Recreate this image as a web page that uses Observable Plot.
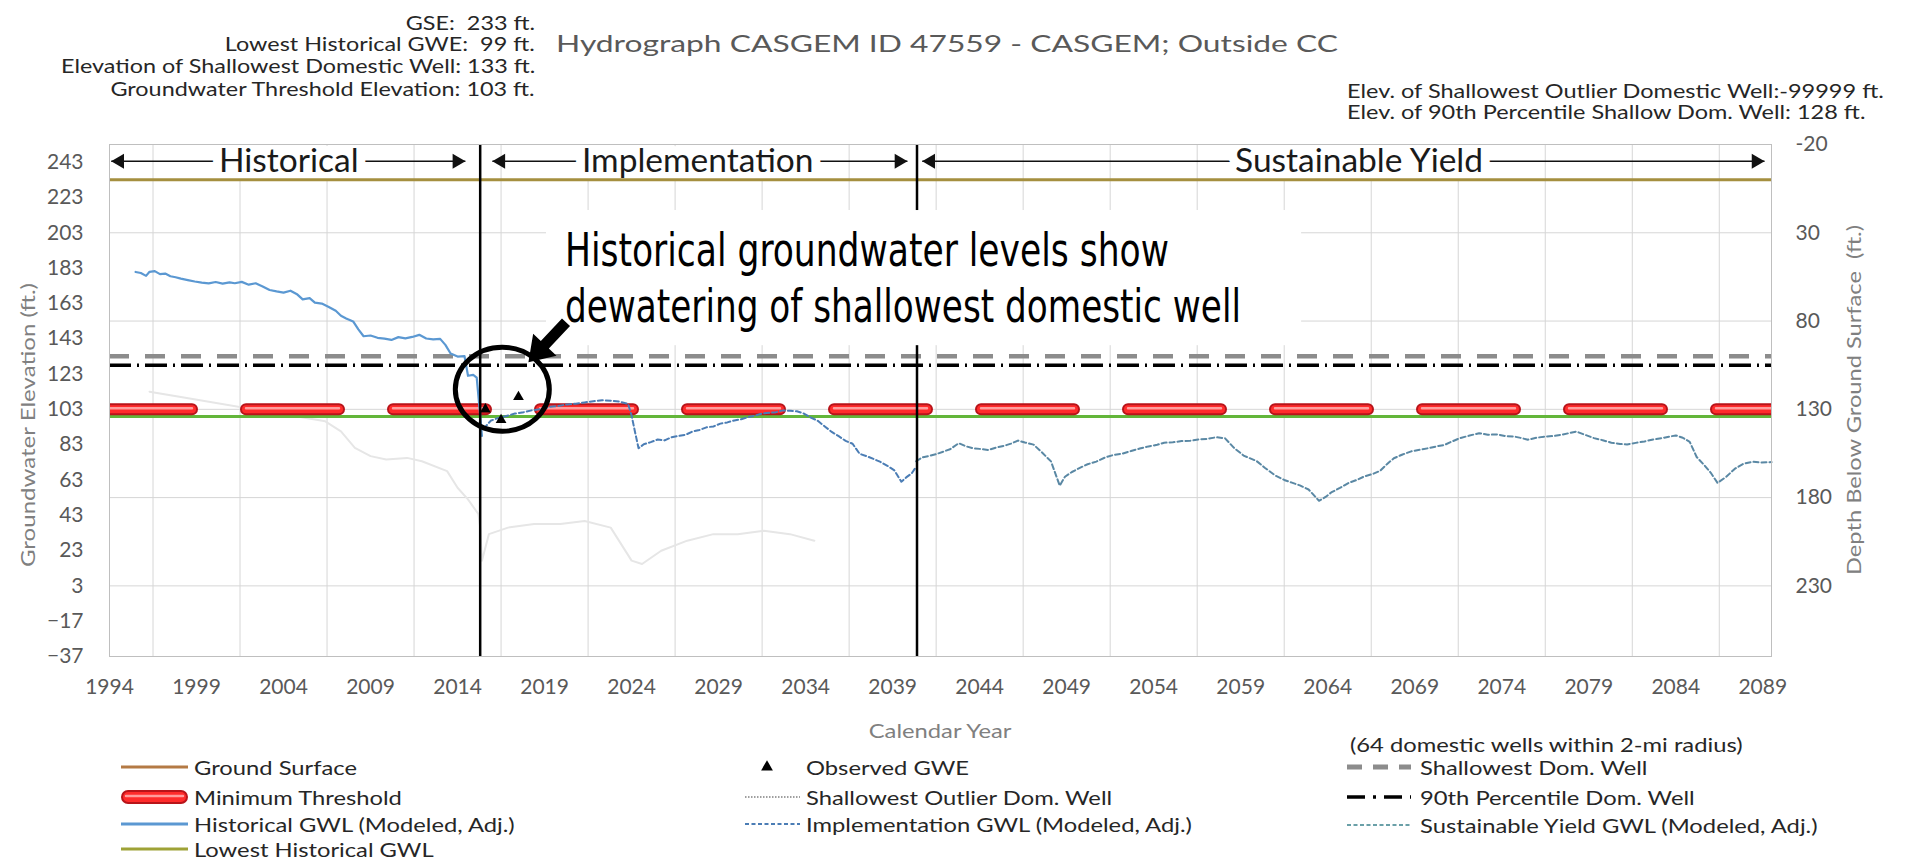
<!DOCTYPE html>
<html lang="en">
<head>
<meta charset="utf-8">
<title>Hydrograph CASGEM ID 47559</title>
<script src="https://cdn.jsdelivr.net/npm/d3@7"></script>
<script src="https://cdn.jsdelivr.net/npm/@observablehq/plot@0.6"></script>
<style>
  html, body { margin: 0; padding: 0; background: #fff; }
  #page { position: relative; width: 1908px; height: 865px; overflow: hidden; font-family: Lato, "Open Sans", sans-serif; }
  .band { position: relative; width: 1908px; }
  .txt { position: absolute; white-space: pre; line-height: 1; }
  .band svg { display: block; }
</style>
</head>
<body>
<div id="page">
  <div id="header" class="band" style="height:130px"></div>
  <div id="chart" class="band" style="height:585px"></div>
  <div id="footer" class="band" style="height:150px"></div>
</div>
<script>
// ---------- well reference values (ft) ----------
const GSE = 233;
const lowestHistoricalGWE = 99;
const shallowestDomWell = 133;
const thresholdElev = 103;
const pct90DomWell = 128;
const outlierDomWell = -99999;
const wellsInRadius = 64;

// ---------- axes ----------
const xDomain = [1994, 2089.5];
const yDomain = [-37, 253];
const yearTicks = d3.range(1994, 2090, 5);
const elevTicks = d3.range(-37, 254, 20);
const depthTicks = d3.range(-20, 231, 50);
const gridYears = d3.range(1996.5, 2089, 5);

// ---------- planning periods ----------
const periodBreaks = [2015.3, 2040.4];
const periodNames = ["Historical", "Implementation", "Sustainable Yield"];
const periodFrom = [1994.1, 2016.0, 2040.7];
const periodTo = [2014.45, 2039.85, 2089.1];
const periodMid = [2004.3, 2027.8, 2065.8];
const periodRow = 243.5;

// ---------- historical GWL (modeled, adj.) ----------
const histYear = [1995.5, 1995.8, 1996.1, 1996.3, 1996.6, 1996.9, 1997.2, 1997.5, 1997.8, 1998.1,
  1998.5, 1998.9, 1999.3, 1999.7, 2000.1, 2000.5, 2000.9, 2001.2, 2001.6, 2002.0,
  2002.4, 2002.8, 2003.2, 2003.6, 2004.0, 2004.4, 2004.8, 2005.1, 2005.5, 2005.8,
  2006.2, 2006.6, 2007.0, 2007.3, 2007.6, 2008.0, 2008.3, 2008.6, 2009.0, 2009.4,
  2009.8, 2010.2, 2010.6, 2011.0, 2011.4, 2011.8, 2012.2, 2012.6, 2013.0, 2013.3,
  2013.6, 2014.0, 2014.4, 2014.6, 2014.9, 2015.1, 2015.25, 2015.4];
const histElev = [180.8, 180.2, 178.6, 180.9, 181.3, 179.6, 179.9, 178.4, 177.8, 177.0,
  176.2, 175.4, 174.8, 174.3, 175.1, 174.2, 174.9, 174.4, 175.2, 173.6,
  174.4, 172.6, 170.6, 169.8, 169.1, 170.2, 168.0, 165.3, 166.0, 163.4,
  162.9, 161.0, 158.8, 156.0, 154.5, 152.8, 148.3, 144.4, 144.8, 143.5,
  143.0, 142.3, 143.9, 143.2, 144.0, 145.2, 143.1, 142.6, 142.9, 139.5,
  134.6, 132.9, 133.1, 122.0, 122.5, 121.0, 105.0, 88.0];

// ---------- implementation GWL (modeled, adj.) ----------
const implYear = [2015.5, 2015.9, 2016.3, 2016.8, 2017.3, 2017.8, 2018.3, 2018.8, 2019.3, 2019.8,
  2020.3, 2020.8, 2021.3, 2021.8, 2022.3, 2022.8, 2023.3, 2023.8, 2024.0, 2024.2,
  2024.4, 2024.7, 2025.1, 2025.5, 2025.9, 2026.3, 2026.7, 2027.1, 2027.5, 2027.9,
  2028.3, 2028.7, 2029.1, 2029.5, 2029.9, 2030.3, 2030.7, 2031.1, 2031.5, 2031.9,
  2032.3, 2032.7, 2033.1, 2033.5, 2033.9, 2034.3, 2034.7, 2035.1, 2035.5, 2035.9,
  2036.3, 2036.7, 2037.1, 2037.5, 2037.9, 2038.3, 2038.7, 2039.1, 2039.5, 2039.8,
  2040.1, 2040.35];
const implElev = [92.0, 96.5, 98.0, 99.2, 100.6, 101.4, 102.5, 103.1, 104.4, 104.9,
  105.8, 106.2, 106.9, 107.6, 108.2, 107.9, 107.4, 106.0, 99.5, 90.0,
  81.0, 83.2, 84.4, 85.9, 85.4, 87.2, 87.9, 88.6, 90.4, 91.3,
  92.8, 93.3, 94.9, 95.6, 96.7, 97.4, 98.6, 99.4, 100.6, 101.0,
  101.4, 102.4, 102.2, 101.9, 100.6, 98.3, 96.5, 93.3, 90.2, 87.8,
  85.1, 83.5, 77.8, 76.5, 74.9, 73.2, 71.0, 68.4, 62.0, 64.6,
  66.8, 70.5];

// ---------- sustainable yield GWL (modeled, adj.) ----------
const syYear = [2040.35, 2040.7, 2041.1, 2041.5, 2041.9, 2042.3, 2042.8, 2043.2, 2043.6, 2044.0,
  2044.5, 2045.0, 2045.4, 2045.8, 2046.2, 2046.6, 2047.1, 2047.6, 2048.1, 2048.6,
  2048.9, 2049.3, 2049.7, 2050.2, 2050.7, 2051.2, 2051.7, 2052.2, 2052.7, 2053.2,
  2053.7, 2054.2, 2054.6, 2055.1, 2055.6, 2056.1, 2056.6, 2057.1, 2057.6, 2058.1,
  2058.6, 2059.2, 2059.9, 2060.4, 2061.0, 2061.5, 2061.9, 2062.4, 2062.9, 2063.5,
  2063.9, 2064.2, 2064.7, 2065.2, 2065.7, 2066.1, 2066.6, 2067.0, 2067.4, 2067.8,
  2068.3, 2068.8, 2069.3, 2069.8, 2070.2, 2070.7, 2071.1, 2071.6, 2072.1, 2072.7,
  2073.2, 2073.7, 2074.2, 2074.7, 2075.1, 2075.5, 2076.0, 2076.5, 2077.0, 2077.5,
  2077.9, 2078.3, 2078.8, 2079.3, 2079.8, 2080.3, 2080.8, 2081.2, 2081.7, 2082.2,
  2082.7, 2083.2, 2083.6, 2084.0, 2084.4, 2084.8, 2085.2, 2085.6, 2086.0, 2086.4,
  2086.9, 2087.4, 2087.9, 2088.4, 2088.9, 2089.5];
const syElev = [73.6, 75.8, 76.6, 77.6, 79.0, 80.4, 83.8, 82.1, 81.0, 80.6,
  80.0, 81.5, 82.3, 83.6, 85.3, 84.2, 83.0, 78.4, 73.5, 59.8,
  64.8, 67.5, 69.6, 71.9, 73.4, 75.7, 77.2, 77.9, 79.4, 80.8,
  82.0, 82.9, 84.1, 84.3, 85.0, 85.2, 86.0, 86.3, 87.2, 86.6,
  81.3, 76.6, 73.8, 69.8, 65.4, 63.0, 61.6, 59.9, 57.6, 51.2,
  53.5, 55.9, 58.5, 61.3, 63.1, 65.0, 66.4, 68.1, 71.9, 75.3,
  77.4, 79.2, 80.1, 81.0, 81.9, 82.8, 84.6, 86.7, 88.0, 89.5,
  88.6, 88.8, 87.9, 87.6, 86.8, 85.8, 86.9, 87.6, 87.9, 88.7,
  89.6, 90.4, 88.5, 86.7, 85.5, 84.1, 83.4, 83.1, 84.0, 84.8,
  85.9, 86.7, 87.5, 88.2, 86.9, 84.6, 76.0, 71.8, 67.2, 61.3,
  64.8, 69.4, 72.2, 73.3, 72.9, 73.1];

// ---------- faded background trace ----------
const fadedYear = [1996.3, 1998.1, 2006.4, 2007.3, 2008.1, 2009.0, 2009.9, 2011.1, 2011.95, 2013.4,
  2014.0, 2014.6, 2015.2, 2015.3, 2015.4, 2015.8, 2016.9, 2018.4, 2019.9, 2021.3,
  2022.8, 2024.0, 2024.6, 2025.7, 2027.2, 2028.7, 2030.1, 2031.6, 2033.1, 2034.5];
const fadedElev = [113, 110, 96.2, 90.5, 81.2, 76.5, 74.6, 75.5, 73.6, 68,
  58.6, 52, 43.6, 36, 17.3, 32.3, 36, 38, 38, 39.8,
  36, 17.3, 15.4, 22.9, 28.6, 32.3, 32.3, 34.2, 32.3, 28.6];

// ---------- observed GWE ----------
const obsYear = [2015.6, 2016.5, 2017.5];
const obsElev = [103, 97, 110];

// ---------- callout ----------
const calloutLines = ["Historical groundwater levels show", "dewatering of shallowest domestic well"];
const calloutBoxYears = [2019.11, 2062.5];
const calloutBoxElev = [215.6, 139.05];
const calloutTextYear = 2020.2;
const calloutBaselines = [183.8, 152.1];
const circleAt = {year: 2016.6, elev: 114.1};
const pointerTail = {year: 2020.26, elev: 152.1};
const pointerTip = {year: 2018.1, elev: 129.4};

// ---------- text ----------
const titleText = "Hydrograph CASGEM ID 47559 - CASGEM; Outside CC";
const leftNotes = [
  `GSE:  ${GSE} ft.`,
  `Lowest Historical GWE:  ${lowestHistoricalGWE} ft.`,
  `Elevation of Shallowest Domestic Well: ${shallowestDomWell} ft.`,
  `Groundwater Threshold Elevation: ${thresholdElev} ft.`
];
const rightNotes = [
  `Elev. of Shallowest Outlier Domestic Well:${outlierDomWell} ft.`,
  `Elev. of 90th Percentile Shallow Dom. Well: ${pct90DomWell} ft.`
];

const rows = (xs, ys) => xs.map((year, i) => ({year, elev: ys[i]}));
const historical = rows(histYear, histElev);
const implementation = rows(implYear, implElev);
const sustainable = rows(syYear, syElev);
const faded = rows(fadedYear, fadedElev);
const observed = rows(obsYear, obsElev);
const periods = periodNames.map((label, i) => ({label, from: periodFrom[i], to: periodTo[i], mid: periodMid[i]}));

// colours
const C = {
  ground: "#a58f3f", lowest: "#63b63a", histLine: "#5b98d2", implLine: "#4b7db5",
  syLine: "#5a88a4", grid: "#d6d6d6", frame: "#bfbfbf", tick: "#595959", axisTitle: "#808080",
  redOuter: "#b8141a", redInner: "#ff2b2b", redGlow: "#ff9d9d", shallow: "#8c8c8c"
};

const thresholdDash = {strokeDasharray: "93,54", strokeDashoffset: 10, strokeLinecap: "round", clip: true};

const chart = Plot.plot({
  width: 1908,
  height: 585,
  marginLeft: 109,
  marginRight: 137,
  marginTop: 14,
  marginBottom: 59,
  style: {fontFamily: "Lato, sans-serif", color: C.tick, background: "transparent"},
  x: {domain: xDomain},
  y: {domain: yDomain},
  marks: [
    Plot.ruleX(gridYears, {stroke: C.grid, strokeWidth: 1}),
    Plot.ruleY(depthTicks.slice(1).map(d => GSE - d), {stroke: C.grid, strokeWidth: 1}),
    Plot.line(faded, {x: "year", y: "elev", stroke: "#e6e6e6", strokeWidth: 2}),
    // period arrows + labels
    Plot.link(periods, {x1: "from", x2: "to", y1: periodRow, y2: periodRow, stroke: "#111", strokeWidth: 1.6}),
    Plot.dot(periods, {x: "from", y: periodRow, symbol: "triangle", rotate: -90, r: 5.5, dx: 8.5, fill: "#111", stroke: "none"}),
    Plot.dot(periods, {x: "to", y: periodRow, symbol: "triangle", rotate: 90, r: 5.5, dx: -8.5, fill: "#111", stroke: "none"}),
    Plot.text(periods, {x: "mid", y: periodRow, text: "label", fontSize: 33.5, fill: "#1a1a1a",
      stroke: "white", strokeWidth: 18, fontFamily: "Lato, sans-serif"}),
    // reference elevations
    Plot.ruleY([GSE], {stroke: C.ground, strokeWidth: 3}),
    Plot.ruleY([lowestHistoricalGWE], {stroke: C.lowest, strokeWidth: 3}),
    Plot.ruleY([thresholdElev], {stroke: C.redOuter, strokeWidth: 12, ...thresholdDash}),
    Plot.ruleY([thresholdElev], {stroke: C.redInner, strokeWidth: 8, ...thresholdDash}),
    Plot.ruleY([thresholdElev], {stroke: C.redGlow, strokeWidth: 2.5, dy: -1, ...thresholdDash}),
    Plot.ruleY([shallowestDomWell], {stroke: C.shallow, strokeWidth: 4.5, strokeDasharray: "20,16"}),
    Plot.ruleY([pct90DomWell], {stroke: "#000", strokeWidth: 3.5, strokeDasharray: "22,6,2,6"}),
    // modeled groundwater levels
    Plot.line(historical, {x: "year", y: "elev", stroke: C.histLine, strokeWidth: 2.2}),
    Plot.line(implementation, {x: "year", y: "elev", stroke: C.implLine, strokeWidth: 2, strokeDasharray: "5,3"}),
    Plot.line(sustainable, {x: "year", y: "elev", stroke: C.syLine, strokeWidth: 2, strokeDasharray: "5,3"}),
    Plot.dot(observed, {x: "year", y: "elev", symbol: "triangle", r: 4, fill: "#000", stroke: "none"}),
    Plot.ruleX(periodBreaks, {stroke: "#000", strokeWidth: 2.5}),
    Plot.frame({stroke: C.frame, strokeWidth: 1}),
    // axes
    Plot.axisX(yearTicks, {tickSize: 0, tickPadding: 23, fontSize: 21, tickFormat: d => String(d), label: null}),
    Plot.axisY(elevTicks, {anchor: "left", tickSize: 0, tickPadding: 26, fontSize: 21, label: null}),
    Plot.axisY(depthTicks.map(d => GSE - d), {anchor: "right", tickSize: 0, tickPadding: 24, fontSize: 21,
      tickFormat: y => String(Math.round(GSE - y)), label: null})
  ]
});
document.getElementById("chart").appendChild(chart);

// ---------- callout, circle and pointer drawn on top of the plot ----------
const X = v => chart.scale("x").apply(v);
const Y = v => chart.scale("y").apply(v);
const svg = d3.select(chart);
const ann = svg.append("g");

ann.append("rect")
  .attr("x", X(calloutBoxYears[0])).attr("y", Y(calloutBoxElev[0]))
  .attr("width", X(calloutBoxYears[1]) - X(calloutBoxYears[0]))
  .attr("height", Y(calloutBoxElev[1]) - Y(calloutBoxElev[0]))
  .attr("fill", "#fff");

const calloutWidths = [604, 676];
calloutLines.forEach((line, i) => {
  ann.append("text")
    .attr("x", X(calloutTextYear)).attr("y", Y(calloutBaselines[i]))
    .attr("text-anchor", "start")
    .attr("font-family", "'Liberation Sans Narrow', 'DejaVu Sans Condensed', sans-serif")
    .attr("font-size", 46).attr("fill", "#000")
    .attr("textLength", calloutWidths[i]).attr("lengthAdjust", "spacingAndGlyphs")
    .text(line);
});

ann.append("ellipse")
  .attr("cx", X(circleAt.year)).attr("cy", Y(circleAt.elev))
  .attr("rx", 47).attr("ry", 42)
  .attr("fill", "none").attr("stroke", "#000").attr("stroke-width", 5);

{
  const tx = X(pointerTail.year), ty = Y(pointerTail.elev);
  const hx = X(pointerTip.year), hy = Y(pointerTip.elev);
  const len = Math.hypot(hx - tx, hy - ty);
  const ux = (hx - tx) / len, uy = (hy - ty) / len;
  const nx = -uy, ny = ux;
  const shaft = 5.5, head = 16, headLen = 24;
  const bx = hx - ux * headLen, by = hy - uy * headLen;
  const pts = [
    [tx + nx * shaft, ty + ny * shaft], [bx + nx * shaft, by + ny * shaft], [bx + nx * head, by + ny * head],
    [hx, hy],
    [bx - nx * head, by - ny * head], [bx - nx * shaft, by - ny * shaft], [tx - nx * shaft, ty - ny * shaft]
  ];
  ann.append("polygon").attr("points", pts.map(p => p.join(",")).join(" ")).attr("fill", "#000");
}

// axis titles
const plotMidY = (Y(yDomain[0]) + Y(yDomain[1])) / 2;
ann.append("text")
  .attr("transform", `translate(27,${plotMidY + 25}) rotate(-90)`)
  .attr("text-anchor", "middle").attr("dominant-baseline", "central")
  .attr("font-family", "Lato, sans-serif").attr("font-size", 19).attr("fill", C.axisTitle)
  .attr("textLength", 284).attr("lengthAdjust", "spacingAndGlyphs")
  .text("Groundwater Elevation (ft.)");
ann.append("text")
  .attr("transform", `translate(1853,${plotMidY}) rotate(-90)`)
  .attr("text-anchor", "middle").attr("dominant-baseline", "central")
  .attr("font-family", "Lato, sans-serif").attr("font-size", 19).attr("fill", C.axisTitle)
  .attr("textLength", 350).attr("lengthAdjust", "spacingAndGlyphs").attr("xml:space", "preserve")
  .text("Depth Below Ground Surface  (ft.)");

// ---------- HTML text helpers ----------
const ctx = document.createElement("canvas").getContext("2d");
function textWidth(str, size, family = "Lato") {
  ctx.font = `${size}px ${family}`;
  return ctx.measureText(str).width;
}
function placeText(parent, str, {x, y, anchor = "start", size = 19, scale = 1, color = "#262626"}) {
  const el = document.createElement("div");
  el.className = "txt";
  el.textContent = str;
  el.style.fontSize = size + "px";
  el.style.color = color;
  parent.appendChild(el);
  const w = el.getBoundingClientRect().width;
  const h = el.getBoundingClientRect().height;
  const left = anchor === "start" ? x : anchor === "end" ? x - w : x - w / 2;
  el.style.left = left + "px";
  el.style.top = (y - h / 2) + "px";
  el.style.transformOrigin = (anchor === "start" ? "left" : anchor === "end" ? "right" : "center") + " center";
  el.style.transform = `scaleX(${scale})`;
  return el;
}

// header
const header = document.getElementById("header");
const noteSize = 19;
const noteScale = 475 / textWidth(leftNotes[2], noteSize);
const leftNoteY = [22, 43, 65, 88];
leftNotes.forEach((t, i) => placeText(header, t, {x: 535, y: leftNoteY[i], anchor: "end", size: noteSize, scale: noteScale}));
placeText(header, titleText, {x: 556, y: 43, size: 24, scale: 782 / textWidth(titleText, 24), color: "#595959"});
const rightNoteY = [90, 111];
const rightScale = 538 / textWidth(rightNotes[0], noteSize);
rightNotes.forEach((t, i) => placeText(header, t, {x: 1347, y: rightNoteY[i], size: noteSize, scale: rightScale}));

// ---------- footer: x-axis title and legend ----------
const footer = document.getElementById("footer");
const top0 = 715;
const legSize = 19;
const legScale = 400 / textWidth("Sustainable Yield GWL (Modeled, Adj.)", legSize);
placeText(footer, "Calendar Year", {x: 940, y: 730 - top0, anchor: "middle", size: legSize, scale: legScale, color: C.axisTitle});

function swatch(x1, x2, yc, draw) {
  const s = d3.select(footer).append("svg")
    .style("position", "absolute").style("left", x1 + "px").style("top", (yc - top0 - 10) + "px")
    .attr("width", x2 - x1).attr("height", 20);
  draw(s, x2 - x1);
}
const lineSwatch = (color, width, dash) => (s, w) => s.append("line")
  .attr("x1", 0).attr("x2", w).attr("y1", 10).attr("y2", 10)
  .attr("stroke", color).attr("stroke-width", width).attr("stroke-dasharray", dash || null);
const capsuleSwatch = (s, w) => {
  s.append("rect").attr("x", 1).attr("y", 4).attr("width", w - 2).attr("height", 12).attr("rx", 6)
    .attr("fill", C.redInner).attr("stroke", C.redOuter).attr("stroke-width", 2);
  s.append("line").attr("x1", 5).attr("x2", w - 5).attr("y1", 9).attr("y2", 9)
    .attr("stroke", C.redGlow).attr("stroke-width", 2.5).attr("stroke-linecap", "round");
};
const triangleSwatch = (s, w) => s.append("path")
  .attr("d", d3.symbol(d3.symbolTriangle, 60)()).attr("transform", `translate(${w / 2},10)`).attr("fill", "#000");

const legend = [
  {x1: 121, x2: 188, tx: 194, y: 767, label: "Ground Surface", draw: lineSwatch("#b47a45", 3)},
  {x1: 121, x2: 188, tx: 194, y: 797, label: "Minimum Threshold", draw: capsuleSwatch},
  {x1: 121, x2: 188, tx: 194, y: 824, label: "Historical GWL (Modeled, Adj.)", draw: lineSwatch(C.histLine, 3)},
  {x1: 121, x2: 188, tx: 194, y: 849, label: "Lowest Historical GWL", draw: lineSwatch("#9ea236", 3)},
  {x1: 757, x2: 777, tx: 806, y: 767, label: "Observed GWE", draw: triangleSwatch},
  {x1: 745, x2: 800, tx: 806, y: 797, label: "Shallowest Outlier Dom. Well", draw: lineSwatch("#808080", 1.5, "1.5,1.5")},
  {x1: 745, x2: 800, tx: 806, y: 824, label: "Implementation GWL (Modeled, Adj.)", draw: lineSwatch(C.implLine, 1.8, "4,2.5")},
  {x1: 1347, x2: 1411, tx: 1420, y: 767, label: "Shallowest Dom. Well", draw: lineSwatch(C.shallow, 5, "15,11")},
  {x1: 1347, x2: 1411, tx: 1420, y: 797, label: "90th Percentile Dom. Well", draw: lineSwatch("#000", 3.5, "18,8,3,8")},
  {x1: 1347, x2: 1411, tx: 1420, y: 825, label: "Sustainable Yield GWL (Modeled, Adj.)", draw: lineSwatch("#6aa0a8", 1.8, "4,2.5")}
];
legend.forEach(d => {
  swatch(d.x1, d.x2, d.y, d.draw);
  placeText(footer, d.label, {x: d.tx, y: d.y - top0, size: legSize, scale: legScale});
});
placeText(footer, `(${wellsInRadius} domestic wells within 2-mi radius)`, {x: 1350, y: 744 - top0, size: legSize, scale: legScale});
</script>
</body>
</html>
